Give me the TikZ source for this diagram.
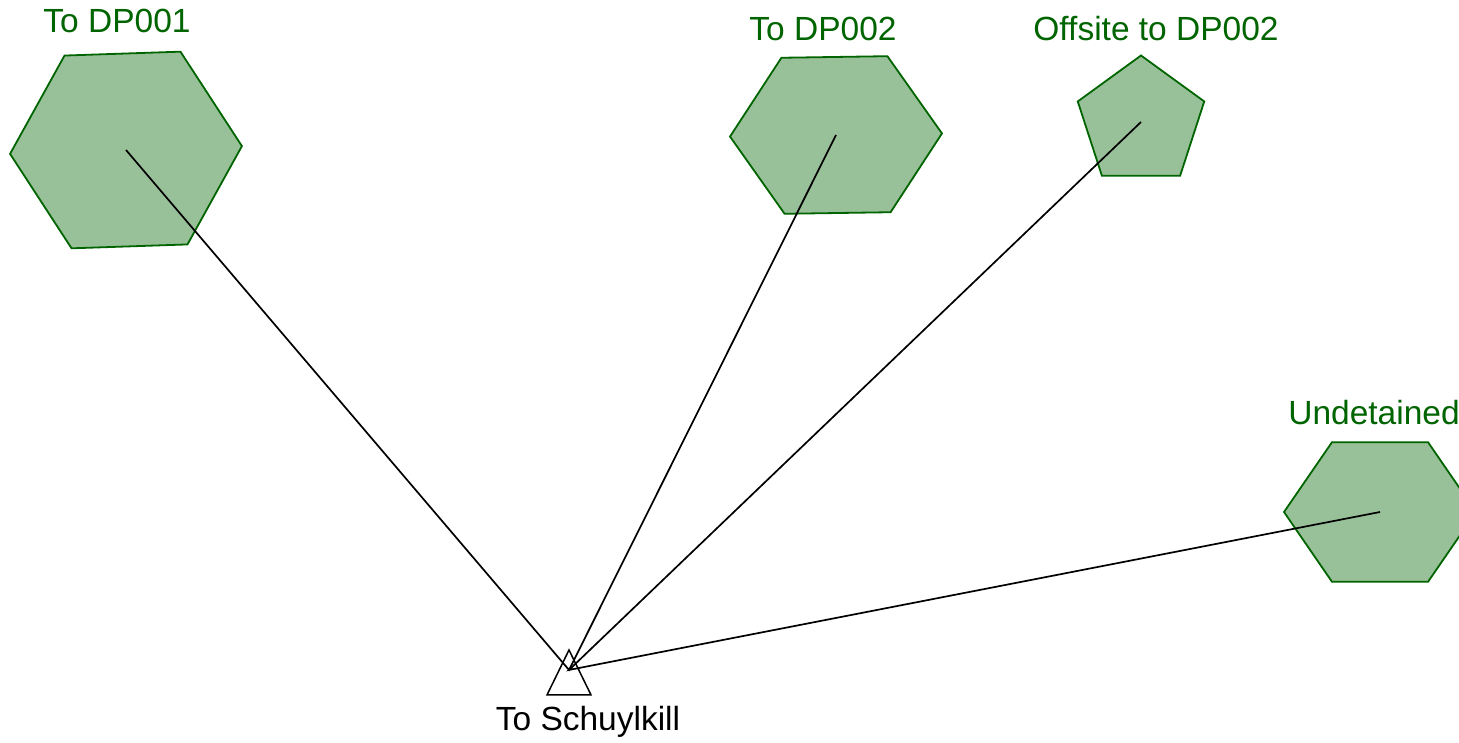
\documentclass[tikz,border=0pt]{standalone}
\usepackage{fontspec}
\setmainfont{Liberation Sans}
\usetikzlibrary{shapes.geometric}
\usetikzlibrary{calc}
\definecolor{basingreen}{RGB}{0,100,0}

\begin{document}
\begin{tikzpicture}[x=1pt,y=1pt,
	basin/.style={regular polygon,draw=basingreen,fill=basingreen!40,line width=1.8pt,inner sep=0pt,outer sep=0pt},
	tag/.style={text=basingreen,anchor=base,inner sep=0pt,font=\fontsize{33.5}{40}\selectfont}]
	\useasboundingbox (0,0) rectangle (1459,742);

	\node[basin,regular polygon sides=6,minimum size=232pt,yscale=0.96,rotate=2](dp1) at (126,592) {};
	\node[basin,regular polygon sides=6,minimum size=212pt,yscale=0.85,rotate=1](dp2) at (836,607) {};
	\node[basin,regular polygon sides=5,minimum size=133pt](off) at (1141,620) {};
	\node[basin,regular polygon sides=6,minimum size=192pt,yscale=0.84](und) at (1380,230) {};
	\node[isosceles triangle,isosceles triangle stretches,draw,line width=1.5pt,inner sep=0pt,minimum width=44pt,minimum height=45pt,rotate=90,anchor=apex](out) at (569,94) {};
	\coordinate (outlet) at ($(out.apex)!.46!(out.lower side)$);

	\node[tag](l1) at (117,709) {To DP001};
	\node[tag](l2) at (823,701) {To DP002};
	\node[tag](l3) at (1156,701) {Offsite to DP002};
	\node[tag](l4) at (1374,317) {Undetained};
	\node[tag,text=black](l5) at (588,12) {To Schuylkill};

	\draw[line width=1.7pt] (dp1.center) -- (outlet) -- (dp2.center);
	\draw[line width=1.7pt] (off.center) -- (outlet) -- (und.center);
\end{tikzpicture}
\end{document}
